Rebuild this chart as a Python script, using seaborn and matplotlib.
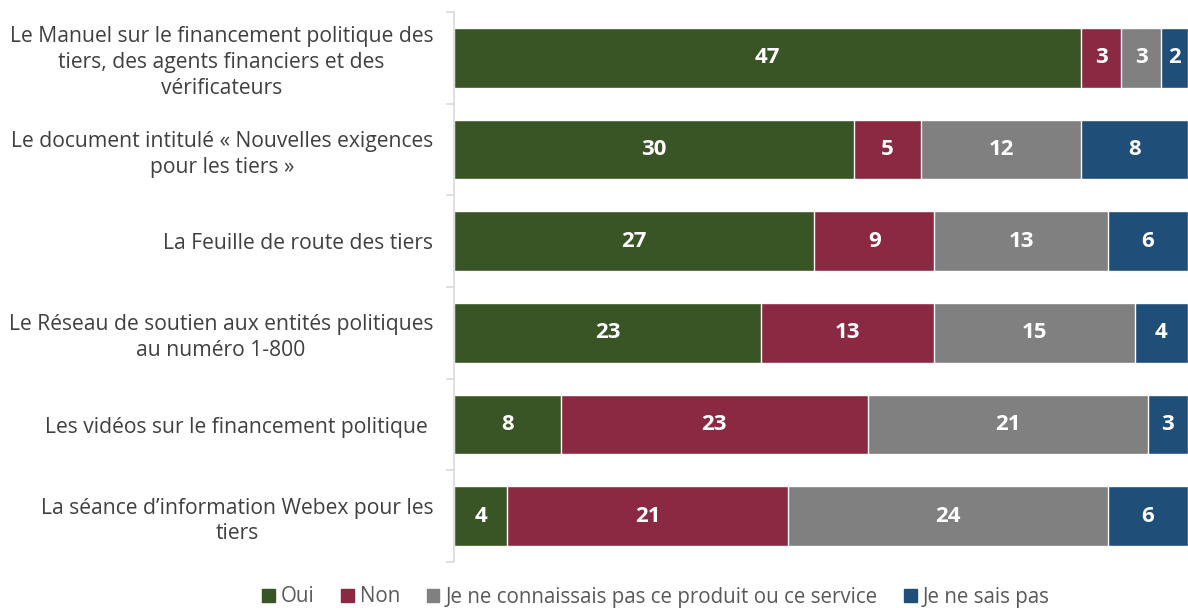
import numpy as np
import pandas as pd
import seaborn as sns
import matplotlib.pyplot as plt

# Data
categories = [
    "Le Manuel sur le financement politique des\ntiers, des agents financiers et des\nvérificateurs",
    "Le document intitulé « Nouvelles exigences\npour les tiers »",
    "La Feuille de route des tiers",
    "Le Réseau de soutien aux entités politiques\nau numéro 1-800",
    "Les vidéos sur le financement politique ",
    "La séance d’information Webex pour les\ntiers",
]
series = ["Oui", "Non", "Je ne connaissais pas ce produit ou ce service", "Je ne sais pas"]
oui = [47, 30, 27, 23, 8, 4]
non = [3, 5, 9, 13, 23, 21]
inconnu = [3, 12, 13, 15, 21, 24]
nsp = [2, 8, 6, 4, 3, 6]
colors = ["#3a5525", "#8b2942", "#808080", "#1f4e79"]

sns.set_style("white")
plt.rcParams["font.family"] = ["Open Sans", "DejaVu Sans"]

df = pd.DataFrame({"cat": categories, series[0]: oui, series[1]: non,
                   series[2]: inconnu, series[3]: nsp})
cum = df[series].cumsum(axis=1)

fig = plt.figure(figsize=(11.88, 6.08), dpi=100)
ax = fig.add_axes([454 / 1188, 46 / 608, 734 / 1188, 550 / 608])

# draw cumulative bars from the longest to the shortest so they stack
for s, c in reversed(list(zip(series, colors))):
    sns.barplot(x=cum[s], y=df["cat"], color=c, width=0.65, ax=ax,
                orient="h", saturation=1, label=s)

# value labels in the middle of each segment
for i in range(len(categories)):
    left = 0
    for s in series:
        v = df.loc[i, s]
        ax.text(left + v / 2, i, str(v), ha="center", va="center",
                color="white", fontsize=16, fontweight="bold")
        left += v

ax.set_xlim(0, 55)
ax.set_ylim(5.5, -0.5)
ax.set_xlabel("")
ax.set_ylabel("")
ax.set_xticks([])
for sp in ["top", "right", "bottom"]:
    ax.spines[sp].set_visible(False)
ax.spines["left"].set_color("#d9d9d9")
ax.spines["left"].set_linewidth(1.2)
ax.tick_params(axis="y", which="major", left=False, length=0, pad=15,
               labelsize=15.2, labelcolor="#404040")
ax.set_yticks(np.arange(-0.5, 6, 1), minor=True)
ax.tick_params(axis="y", which="minor", left=True, length=6,
               color="#d9d9d9", width=1.2)
for t in ax.get_yticklabels():
    t.set_multialignment("center")
    t.set_linespacing(1.3)

if ax.legend_:
    ax.legend_.remove()
handles = [plt.Rectangle((0, 0), 1, 1, color=c) for c in colors]
fig.legend(handles, series, loc="center", bbox_to_anchor=(656 / 1188, 11 / 608),
           ncol=4, frameon=False, fontsize=14.8, handlelength=0.6,
           handleheight=0.6, handletextpad=0.3, columnspacing=1.3,
           labelcolor="#595959")

fig.savefig("out.png", dpi=100)
